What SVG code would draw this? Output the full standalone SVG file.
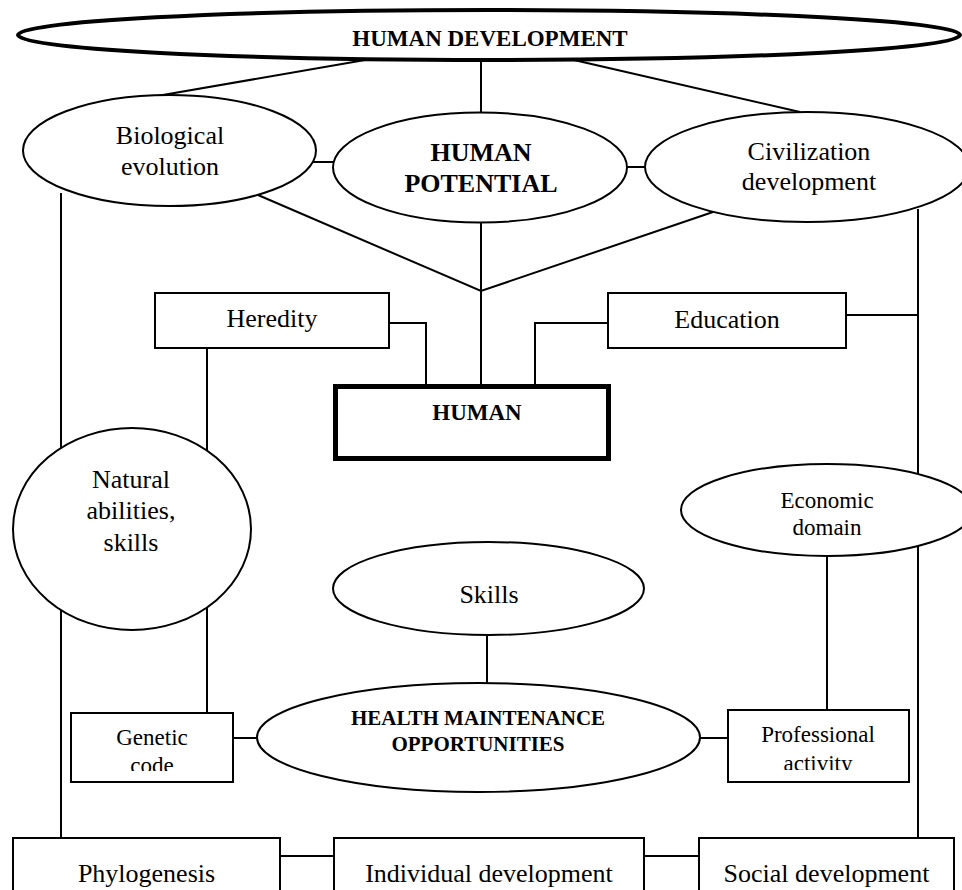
<svg xmlns="http://www.w3.org/2000/svg" width="962" height="890" viewBox="0 0 962 890">
<style>
.ln{stroke:#000;stroke-width:2;fill:none}
.sh{fill:#fff;stroke:#000;stroke-width:2}
text{font-family:'Liberation Serif','Times New Roman','DejaVu Serif',serif;font-size:26px;fill:#000;text-anchor:middle}
.s{font-size:23px}
.b{font-weight:bold}
</style>
<defs>
<clipPath id="cg"><rect x="71" y="713" width="162" height="58"/></clipPath>
<clipPath id="cp"><rect x="728" y="710" width="181" height="60"/></clipPath>
</defs>
<rect width="962" height="890" fill="#fff"/>
<g id="connectors" class="ln">
<line x1="365" y1="60" x2="157" y2="96"/>
<line x1="481" y1="60" x2="481" y2="113"/>
<line x1="574" y1="60" x2="800" y2="112"/>
<line x1="312" y1="162" x2="334" y2="162"/>
<line x1="626" y1="167" x2="646" y2="167"/>
<polyline points="258,195 481,291 713,212"/>
<line x1="481" y1="222" x2="481" y2="386"/>
<polyline points="389,323 426,323 426,386"/>
<polyline points="608,323 535,323 535,386"/>
<line x1="846" y1="315" x2="918" y2="315"/>
<line x1="61" y1="193" x2="61" y2="838"/>
<line x1="918" y1="209" x2="918" y2="838"/>
<line x1="207" y1="348" x2="207" y2="713"/>
<line x1="487" y1="635" x2="487" y2="683"/>
<line x1="233" y1="738" x2="258" y2="738"/>
<line x1="699" y1="738" x2="728" y2="738"/>
<line x1="827" y1="556" x2="827" y2="710"/>
<line x1="280" y1="856" x2="334" y2="856"/>
<line x1="644" y1="856" x2="699" y2="856"/>
</g>
<g id="human-development">
<ellipse cx="489" cy="35" rx="471" ry="25" fill="#fff" stroke="#000" stroke-width="4"/>
<text class="b" x="490" y="46" style="font-size:23px">HUMAN DEVELOPMENT</text>
</g>
<g id="biological-evolution">
<ellipse class="sh" cx="169.5" cy="150.5" rx="146.5" ry="55.5"/>
<text x="170" y="144">Biological</text>
<text x="170" y="175">evolution</text>
</g>
<g id="human-potential">
<ellipse class="sh" cx="480" cy="167.5" rx="147" ry="55"/>
<text class="b" x="481" y="161">HUMAN</text>
<text class="b" x="481" y="192">POTENTIAL</text>
</g>
<g id="civilization-development">
<ellipse class="sh" cx="807" cy="167" rx="162" ry="55"/>
<text x="809" y="160">Civilization</text>
<text x="809" y="190">development</text>
</g>
<g id="heredity">
<rect class="sh" x="155" y="293" width="234" height="55"/>
<text x="272" y="327">Heredity</text>
</g>
<g id="education">
<rect class="sh" x="608" y="293" width="238" height="55"/>
<text x="727" y="328">Education</text>
</g>
<g id="human">
<rect x="335.5" y="386.5" width="273" height="72" fill="#fff" stroke="#000" stroke-width="5"/>
<text class="b" x="477" y="420" style="font-size:23px">HUMAN</text>
</g>
<g id="natural-abilities">
<ellipse class="sh" cx="132" cy="529" rx="119" ry="101"/>
<text x="131" y="488">Natural</text>
<text x="131" y="519">abilities,</text>
<text x="131" y="551">skills</text>
</g>
<g id="economic-domain">
<ellipse class="sh" cx="827" cy="510" rx="146" ry="46"/>
<text class="s" x="827" y="508">Economic</text>
<text class="s" x="827" y="535">domain</text>
</g>
<g id="skills">
<ellipse class="sh" cx="488.5" cy="588.5" rx="155.5" ry="46.5"/>
<text x="489" y="603">Skills</text>
</g>
<g id="health-maintenance">
<ellipse class="sh" cx="478.5" cy="737.5" rx="221.5" ry="54.5"/>
<text class="b" x="478" y="725" style="font-size:21px">HEALTH MAINTENANCE</text>
<text class="b" x="478" y="751" style="font-size:21px">OPPORTUNITIES</text>
</g>
<g id="genetic-code">
<rect class="sh" x="71" y="713" width="162" height="69"/>
<g clip-path="url(#cg)">
<text class="s" x="152" y="745">Genetic</text>
<text class="s" x="152" y="773">code</text>
</g>
</g>
<g id="professional-activity">
<rect class="sh" x="728" y="710" width="181" height="72"/>
<g clip-path="url(#cp)">
<text class="s" x="818" y="742">Professional</text>
<text class="s" x="818" y="771">activity</text>
</g>
</g>
<g id="phylogenesis">
<rect class="sh" x="13" y="838" width="267" height="60"/>
<text x="146.5" y="882">Phylogenesis</text>
</g>
<g id="individual-development">
<rect class="sh" x="334" y="838" width="310" height="60"/>
<text x="489" y="882">Individual development</text>
</g>
<g id="social-development">
<rect class="sh" x="699" y="838" width="255" height="60"/>
<text x="826.5" y="882">Social development</text>
</g>
</svg>
